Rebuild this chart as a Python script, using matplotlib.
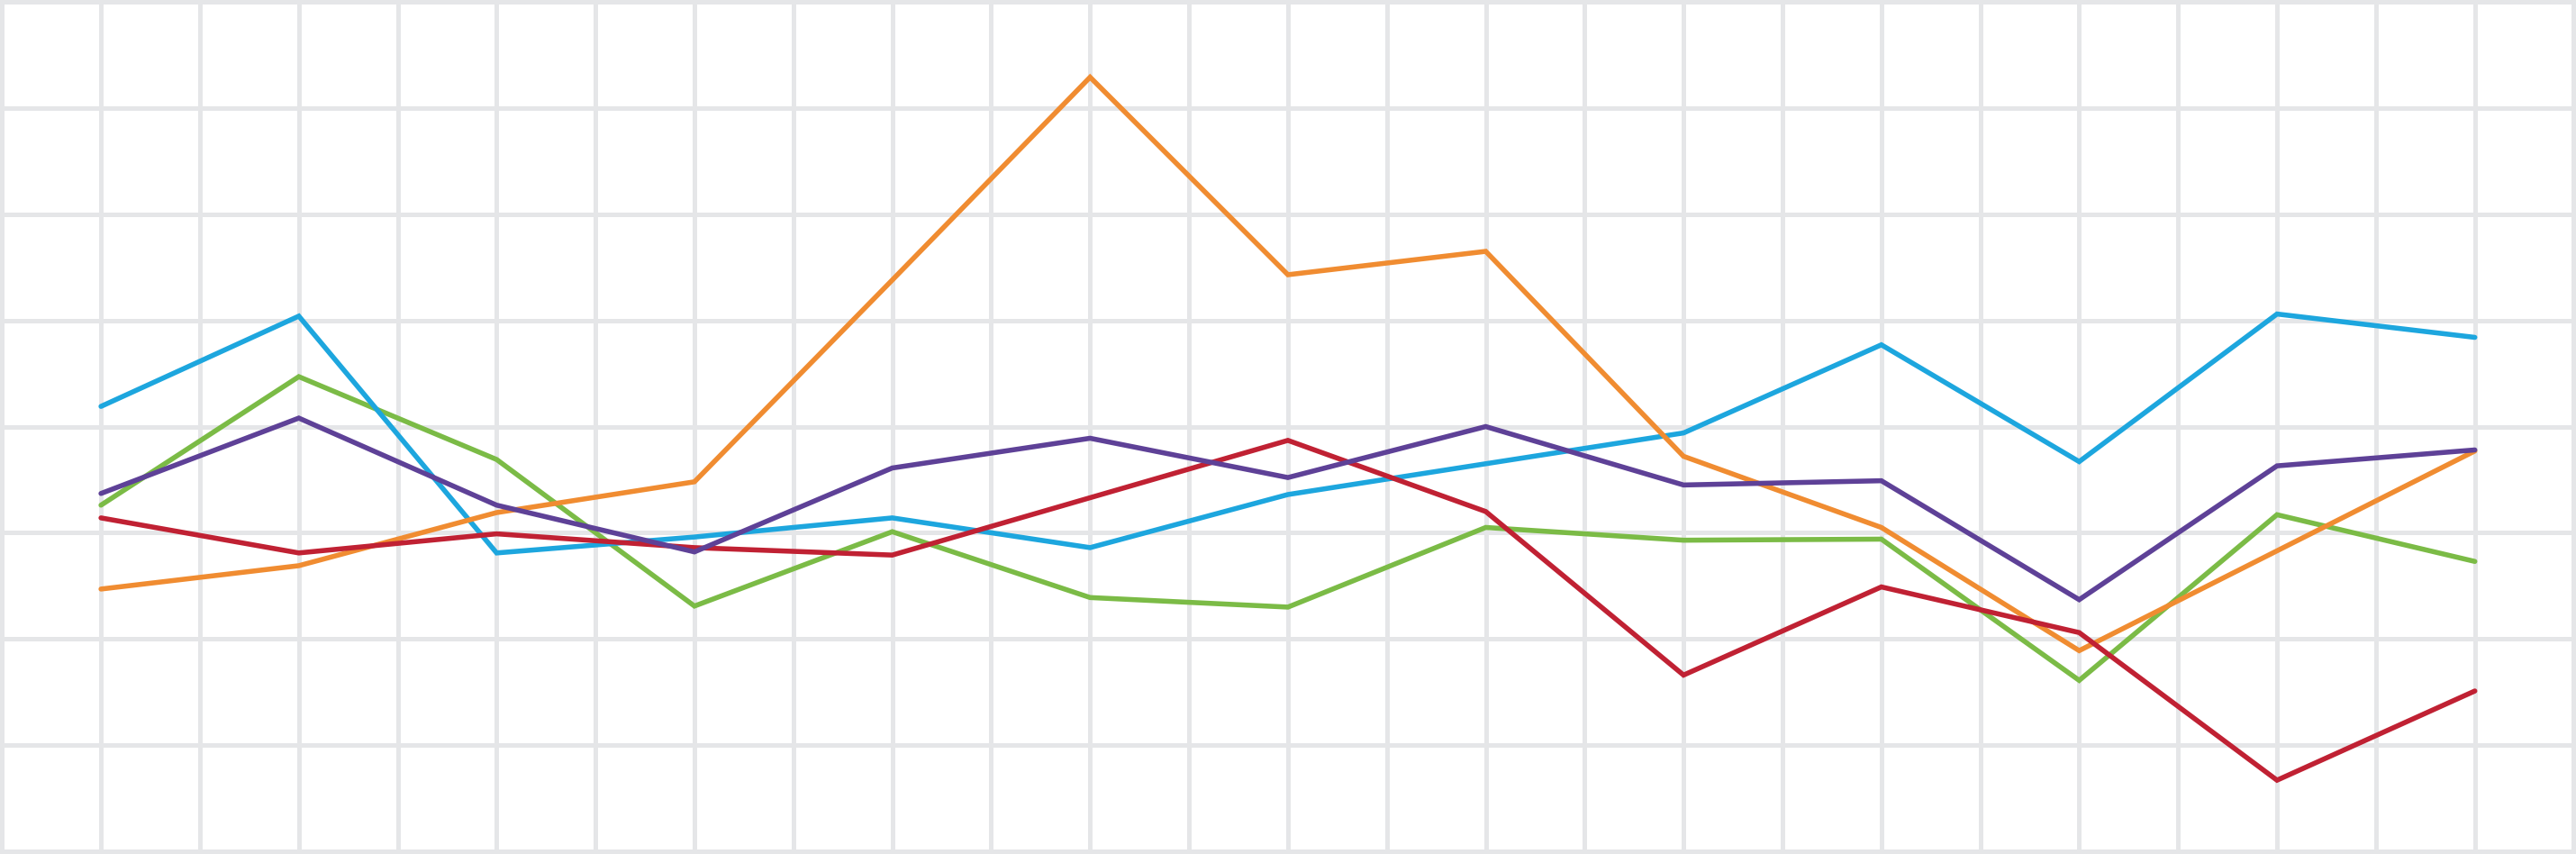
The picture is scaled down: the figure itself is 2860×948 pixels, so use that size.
import numpy as np
import matplotlib
matplotlib.use("Agg")
import matplotlib.pyplot as plt

# 13 points per series, one per category slot
slots = np.arange(13)

blue = [4.19, 5.04, 2.81, 2.96, 3.14, 2.86, 3.36, 3.65, 3.94, 4.77, 3.67, 5.06, 4.84]
green = [3.26, 4.47, 3.69, 2.31, 3.01, 2.39, 2.30, 3.05, 2.93, 2.94, 1.61, 3.17, 2.73]
purple = [3.37, 4.08, 3.26, 2.82, 3.61, 3.89, 3.52, 4.00, 3.45, 3.49, 2.37, 3.63, 3.78]
red = [3.14, 2.81, 2.99, 2.86, 2.79, 3.33, 3.87, 3.20, 1.66, 2.49, 2.06, 0.67, 1.51]
orange = [2.47, 2.69, 3.19, 3.48, 5.38, 7.29, 5.43, 5.65, 3.72, 3.05, 1.89, 2.83, 3.77]

series = [
    (green, "#7bbb46"),
    (blue, "#1da6de"),
    (orange, "#f08c31"),
    (red, "#c02133"),
    (purple, "#5e4197"),
]

fig = plt.figure(figsize=(28.6, 9.48), dpi=100)
ax = fig.add_axes([0, 0, 1, 1])

# grid every half slot horizontally, every unit vertically
ax.set_xticks(np.arange(-0.5, 12.51, 0.5))
ax.set_yticks(np.arange(0, 8.01, 1))
ax.grid(True, color="#e5e6e8", linewidth=3.6)
ax.set_axisbelow(True)
for gl in ax.get_xgridlines() + ax.get_ygridlines():
    gl.set_clip_on(False)

for vals, col in series:
    ax.plot(slots, vals, color=col, linewidth=4.0,
            solid_capstyle="round", solid_joinstyle="miter")

ax.set_xlim(-0.5105, 12.5114)
ax.set_ylim(-0.025, 8.017)
ax.tick_params(length=0, labelbottom=False, labelleft=False)
for s in ax.spines.values():
    s.set_visible(False)

fig.savefig("out.png", dpi=100, facecolor="white")
